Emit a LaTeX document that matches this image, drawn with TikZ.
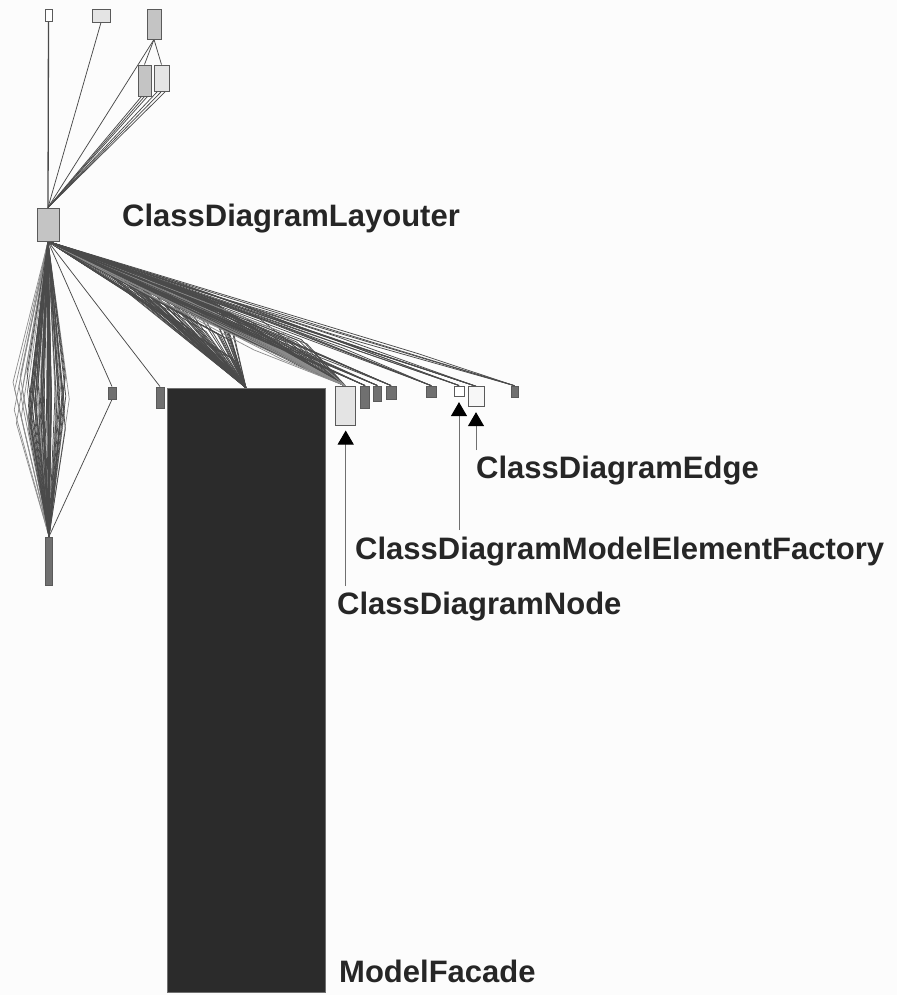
\documentclass[tikz,border=0pt]{standalone}
\usepackage{fontspec}
\setmainfont{Liberation Sans}
\usetikzlibrary{arrows.meta,calc}
\definecolor{paper}{HTML}{FCFCFC}
\definecolor{boxline}{HTML}{5A5A5A}
\definecolor{darkedge}{HTML}{4A4A4A}
\definecolor{lightedge}{HTML}{8C8C8C}
\definecolor{midgray}{HTML}{707070}
\definecolor{shade}{HTML}{C4C4C4}
\definecolor{pale}{HTML}{E4E4E4}
\definecolor{facade}{HTML}{2B2B2B}
\definecolor{labeltext}{HTML}{262626}
\pgfdeclarelayer{paperlayer}
\pgfdeclarelayer{edgelayer}
\pgfsetlayers{paperlayer,edgelayer,main}

\begin{document}
\begin{tikzpicture}[x=1pt,y=-1pt,
  cls/.style={draw=boxline, line width=0.9pt, inner sep=0pt},
  dep/.style={draw=darkedge, line width=0.75pt},
  deplight/.style={draw=lightedge, line width=0.7pt},
  callout/.style={draw=midgray, line width=1pt, -{Triangle[width=16pt,length=14pt,color=black,fill=black]}, shorten >=5pt},
  lbl/.style={anchor=base west, inner sep=0pt, text=labeltext, font=\fontsize{31}{37}\selectfont\bfseries}]
\useasboundingbox (0,0) rectangle (897,995);
\begin{pgfonlayer}{paperlayer}
\fill[paper] (0,0) rectangle (897,995);
\end{pgfonlayer}

% upper classes
\node[cls, fill=white, minimum width=7, minimum height=12] (t1) at (48.5,15) {};
\node[cls, fill=pale, minimum width=18, minimum height=13] (t2) at (101,15.5) {};
\node[cls, fill=shade, minimum width=14, minimum height=30] (t3) at (154,24) {};
\node[cls, fill=shade, minimum width=13, minimum height=31] (s1) at (144.5,80.5) {};
\node[cls, fill=pale, minimum width=15, minimum height=26] (s2) at (161.5,78) {};
\node[cls, fill=shade, minimum width=22, minimum height=33] (lay) at (48,224.5) {};

% lower row
\node[cls, fill=midgray, minimum width=7, minimum height=48] (b0) at (49,561) {};
\node[cls, fill=midgray, minimum width=8, minimum height=12] (r1) at (112,393) {};
\node[cls, fill=midgray, minimum width=8, minimum height=21] (r2) at (160,397.5) {};
\node[draw=midgray, fill=facade, inner sep=0pt, minimum width=158, minimum height=604] (mf) at (246,690) {};
\node[cls, fill=pale, minimum width=20, minimum height=38.5] (nd) at (345.7,405.8) {};
\node[cls, fill=midgray, minimum width=8.6, minimum height=22] (r3) at (365,397) {};
\node[cls, fill=midgray, minimum width=8.7, minimum height=15.7] (r4) at (377.3,393.8) {};
\node[cls, fill=midgray, minimum width=10, minimum height=13] (r5) at (391,392.5) {};
\node[cls, fill=midgray, minimum width=10.7, minimum height=11.7] (r6) at (431.3,392) {};
\node[cls, fill=white, minimum width=10, minimum height=10.7] (fac) at (459,391.3) {};
\node[cls, fill=paper!96!gray, minimum width=16, minimum height=20] (edg) at (476,396.7) {};
\node[cls, fill=midgray, minimum width=7, minimum height=11.7] (r7) at (514.5,392) {};

\begin{pgfonlayer}{edgelayer}
\pgfmathsetseed{42}
% top dependencies
\draw[dep, line width=1.3pt] (t1.south) -- (lay.north);
\draw[dep] (t2.south) -- (lay.north);
\draw[dep] (t3.south) -- (s1.north);
\draw[dep] (t3.south) -- (s2.north);
\draw[dep] (t3.south) -- (lay.north);
\foreach \d in {-3,0,3} \draw[dep] ($(s1.south)+(\d,0)$) -- (lay.north);
\foreach \d in {-4,0,4} \draw[dep] ($(s2.south)+(\d,0)$) -- (lay.north);

% lens down to b0
\foreach \i in {1,...,26} {
  \pgfmathsetmacro\wx{12+64*rnd}
  \pgfmathsetmacro\wy{375+50*rnd}
  \draw[deplight] (lay.south) -- (\wx,\wy) -- (b0.north);
}
\foreach \i in {1,...,45} {
  \pgfmathsetmacro\wx{26+40*rnd}
  \pgfmathsetmacro\wy{370+60*rnd}
  \draw[dep] (lay.south) -- (\wx,\wy) -- (b0.north);
}
\draw[dep] (lay.south) -- (r1.north);
\draw[dep] (lay.south) -- (r2.north);
\draw[dep] (r1.south) -- (b0.north);

% fan to ModelFacade
\foreach \i in {1,...,60} {
  \pgfmathsetmacro\wx{100+135*rnd}
  \pgfmathsetmacro\wy{241+(\wx-48)*(0.33+0.32*rnd)}
  \draw[dep] (lay.south) -- (\wx,\wy) -- (mf.north);
}
% fan to ClassDiagramNode
\foreach \i in {1,...,60} {
  \pgfmathsetmacro\wx{110+200*rnd}
  \pgfmathsetmacro\wy{241+(\wx-48)*(0.36+0.16*rnd)}
  \draw[dep] (lay.south) -- (\wx,\wy) -- (nd.north);
}
\foreach \i in {1,...,14} {
  \pgfmathsetmacro\wx{110+180*rnd}
  \pgfmathsetmacro\wy{241+(\wx-48)*(0.34+0.2*rnd)}
  \draw[deplight] (lay.south) -- (\wx,\wy) -- (nd.north);
}
% fan to the small classes
\foreach \t/\n in {r3/6,r4/5,r5/5,r6/5,fac/4,edg/5,r7/4} {
  \foreach \k in {1,...,\n} {
    \pgfmathsetmacro\f{0.3+0.5*rnd}
    \pgfmathsetmacro\j{10*(rnd-0.5)}
    \draw[dep] (lay.south) -- ($(lay.south)!\f!(\t.north)+(0,\j)$) -- (\t.north);
  }
}
\end{pgfonlayer}

% labels
\node[lbl] (layLbl) at (122,226) {ClassDiagramLayouter};
\node[lbl] (edgLbl) at (476,478) {ClassDiagramEdge};
\node[lbl] (facLbl) at (355,559) {ClassDiagramModelElementFactory};
\node[lbl] (ndLbl) at (337,614) {ClassDiagramNode};
\node[lbl] (mfLbl) at (339,982) {ModelFacade};

% callouts
\coordinate (edgEnd) at (476,450);
\coordinate (facEnd) at (459,530);
\coordinate (ndEnd) at (345.7,586);
\draw[callout] (edgEnd) -- (edg.south);
\draw[callout] (facEnd) -- (fac.south);
\draw[callout] (ndEnd) -- (nd.south);
\end{tikzpicture}
\end{document}
